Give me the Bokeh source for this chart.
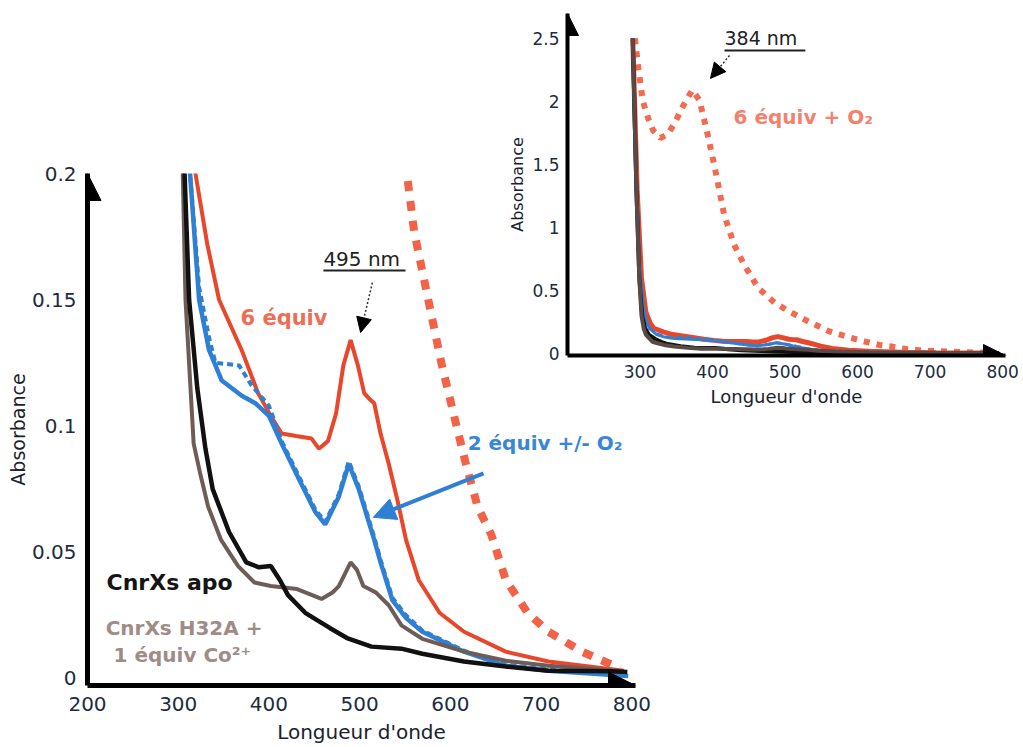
from bokeh.plotting import figure
from bokeh.models import Range1d, FixedTicker, NumeralTickFormatter, Label, Arrow, NormalHead
from bokeh.layouts import row
from bokeh.embed import file_html
from bokeh.resources import INLINE

# ---------------- data (wavelength nm, absorbance) ----------------
apo_wl = [290, 295, 299, 303, 307, 312, 321, 330, 338, 356, 375, 389, 402, 412, 421, 440, 467, 486, 513, 546, 569, 615, 661, 708, 777, 795]
apo_abs = [2.5, 1.3, 0.6, 0.3, 0.2, 0.15, 0.115, 0.091, 0.075, 0.058, 0.046, 0.044, 0.0445, 0.039, 0.033, 0.026, 0.020, 0.016, 0.0126, 0.0118, 0.0098, 0.0067, 0.0047, 0.003, 0.0028, 0.0025]

h32a_wl = [290, 295, 299, 302, 305, 308, 317, 324, 333, 347, 366, 384, 402, 431, 458, 470, 477, 490, 497, 504, 518, 532, 546, 569, 615, 661, 708, 791]
h32a_abs = [2.5, 1.3, 0.6, 0.3, 0.2, 0.15, 0.093, 0.0815, 0.068, 0.055, 0.0445, 0.038, 0.0366, 0.0354, 0.0315, 0.034, 0.0366, 0.046, 0.043, 0.0366, 0.034, 0.029, 0.021, 0.0157, 0.0106, 0.007, 0.005, 0.0028]

eq2_wl = [290, 295, 300, 305, 309, 313, 323, 334, 348, 370, 385, 400, 414, 433, 451, 462, 477, 488, 499, 510, 516, 523, 536, 551, 569, 615, 661, 708, 796]
eq2_abs = [2.5, 1.4, 0.65, 0.35, 0.25, 0.2, 0.15, 0.13, 0.118, 0.112, 0.109, 0.104, 0.093, 0.079, 0.066, 0.061, 0.072, 0.085, 0.075, 0.062, 0.055, 0.046, 0.031, 0.024, 0.0185, 0.0106, 0.005, 0.003, 0.001]

eq2o2_wl = [290, 295, 300, 305, 309, 313, 323, 334, 341, 367, 381, 400, 414, 433, 451, 462, 477, 488, 499, 510, 516, 523, 536, 551, 569, 615, 661, 708, 796]
eq2o2_abs = [2.5, 1.4, 0.65, 0.35, 0.25, 0.2, 0.155, 0.135, 0.125, 0.124, 0.116, 0.108, 0.094, 0.080, 0.067, 0.062, 0.073, 0.086, 0.076, 0.063, 0.056, 0.047, 0.032, 0.025, 0.019, 0.011, 0.0055, 0.0035, 0.0012]

eq6_wl = [290, 296, 302, 308, 314, 319, 332, 345, 370, 388, 402, 414, 430, 447, 455, 465, 474, 482, 490, 498, 505, 510, 516, 523, 532, 542, 551, 565, 588, 615, 661, 708, 791]
eq6_abs = [2.5, 1.3, 0.6, 0.33, 0.24, 0.2, 0.172, 0.15, 0.13, 0.113, 0.104, 0.097, 0.096, 0.095, 0.091, 0.094, 0.105, 0.124, 0.134, 0.124, 0.113, 0.111, 0.109, 0.097, 0.085, 0.07, 0.055, 0.039, 0.026, 0.0185, 0.0106, 0.0067, 0.003]

eq6o2_wl = [293, 298, 304, 311, 318, 328, 338, 347, 359, 372, 382, 392, 404, 416, 430, 444, 463, 486, 507, 530, 552, 560, 575, 590, 604, 617, 630, 645, 661, 685, 708, 745, 787]
eq6o2_abs = [2.5, 2.25, 2.0, 1.87, 1.77, 1.71, 1.74, 1.82, 1.96, 2.09, 2.01, 1.77, 1.45, 1.10, 0.86, 0.70, 0.52, 0.40, 0.33, 0.26, 0.2, 0.177, 0.151, 0.125, 0.104, 0.085, 0.068, 0.057, 0.039, 0.026, 0.0185, 0.0106, 0.004]

main_x_ticks = [200, 300, 400, 500, 600, 700, 800]
main_y_ticks = [0, 0.05, 0.1, 0.15, 0.2]
inset_x_ticks = [300, 400, 500, 600, 700, 800]
inset_y_ticks = [0, 0.5, 1, 1.5, 2, 2.5]

# ---------------- styles ----------------
RED = "#e8472b"
RED_DOT = "#f15a3c"
BLUE = "#2f80d4"
BLACK = "#111111"
BROWN = "#6e5c58"
TICK = "#1c2c40"
FONT = "DejaVu Sans"


def style_axes(p, tick_size, xlab_size, ylab_size, x_standoff, y_standoff, xlab_standoff, ylab_standoff, lw):
    for ax in p.axis:
        ax.axis_line_width = lw
        ax.axis_line_color = "black"
        ax.major_tick_line_color = None
        ax.minor_tick_line_color = None
        ax.major_tick_out = 0
        ax.major_tick_in = 0
        ax.major_label_text_font = FONT
        ax.major_label_text_font_size = tick_size
        ax.major_label_text_color = TICK
        ax.axis_label_text_font = FONT
        ax.axis_label_text_font_style = "normal"
        ax.axis_label_text_color = "#1a2230"
    p.xaxis.major_label_standoff = x_standoff
    p.yaxis.major_label_standoff = y_standoff
    p.xaxis.axis_label_standoff = xlab_standoff
    p.yaxis.axis_label_standoff = ylab_standoff
    p.xaxis.axis_label_text_font_size = xlab_size
    p.yaxis.axis_label_text_font_size = ylab_size
    p.grid.visible = False
    p.outline_line_color = None


# ---------------- main chart ----------------
main = figure(width=655, height=747, x_range=Range1d(200, 804), y_range=Range1d(-0.0028, 0.2),
              output_backend="svg", toolbar_location=None,
              min_border_left=87, min_border_right=20, min_border_top=173, min_border_bottom=62,
              x_axis_label="Longueur d'onde", y_axis_label="Absorbance")
main.frame_align = False
style_axes(main, "20px", "20px", "19px", 11, 11, 6, 0, 5)
main.xaxis.ticker = FixedTicker(ticks=main_x_ticks)
main.yaxis.ticker = FixedTicker(ticks=main_y_ticks)
main.yaxis.formatter = NumeralTickFormatter(format="0.[00]")

main.line(eq6o2_wl, eq6o2_abs, line_color=RED_DOT, line_width=8, line_dash="10 10", line_alpha=0.95)
main.line(eq6_wl, eq6_abs, line_color=RED, line_width=4)
main.line(eq2_wl, eq2_abs, line_color=BLUE, line_width=4.5)
main.line(eq2o2_wl, eq2o2_abs, line_color=BLUE, line_width=4, line_dash="6 4")
main.line(h32a_wl, h32a_abs, line_color=BROWN, line_width=4)
main.line(apo_wl, apo_abs, line_color=BLACK, line_width=4.5)

# axis arrow heads
main.add_layout(Arrow(end=NormalHead(size=27, fill_color="black", line_color="black"),
                      x_start=200, y_start=0.19, x_end=200, y_end=0.2, line_alpha=0))
main.add_layout(Arrow(end=NormalHead(size=27, fill_color="black", line_color="black"),
                      x_start=790, y_start=-0.0028, x_end=804, y_end=-0.0028, line_alpha=0))

# annotations
main.add_layout(Label(x=460, y=0.1663, text="495 nm", text_font=FONT, text_font_size="20px",
                      text_color="#222222", text_baseline="middle", text_align="left"))
main.add_layout(Arrow(end=None, x_start=460, y_start=0.1616, x_end=550.5, y_end=0.1616,
                      line_color="#222222", line_width=2))
main.add_layout(Arrow(end=NormalHead(size=15, fill_color="black", line_color="black"),
                      x_start=514, y_start=0.1568, x_end=501, y_end=0.137,
                      line_color="#333333", line_width=1.5, line_dash="2 2"))
main.add_layout(Label(x=368.6, y=0.1426, text="6 équiv", text_font=FONT, text_font_size="21px",
                      text_font_style="bold", text_color="#ef6d55", text_baseline="middle", text_align="left"))
main.add_layout(Label(x=619, y=0.0931, text="2 équiv +/- O₂", text_font=FONT, text_font_size="20px",
                      text_font_style="bold", text_color="#3a86d6", text_baseline="middle", text_align="left"))
main.add_layout(Arrow(end=NormalHead(size=22, fill_color=BLUE, line_color=BLUE),
                      x_start=636.5, y_start=0.0812, x_end=515, y_end=0.0638,
                      line_color=BLUE, line_width=4))
main.add_layout(Label(x=221, y=0.038, text="CnrXs apo", text_font=FONT, text_font_size="22px",
                      text_font_style="bold", text_color="#151515", text_baseline="middle", text_align="left"))
main.add_layout(Label(x=220, y=0.0198, text="CnrXs H32A +", text_font=FONT, text_font_size="20px",
                      text_font_style="bold", text_color="#a08c87", text_baseline="middle", text_align="left"))
main.add_layout(Label(x=228.7, y=0.0091, text="1 équiv Co²⁺", text_font=FONT, text_font_size="20px",
                      text_font_style="bold", text_color="#a08c87", text_baseline="middle", text_align="left"))

# ---------------- inset chart ----------------
inset = figure(width=520, height=413, x_range=Range1d(200, 804), y_range=Range1d(-0.016, 2.698),
               output_backend="svg", toolbar_location=None,
               min_border_left=67, min_border_right=15, min_border_top=13, min_border_bottom=58,
               x_axis_label="Longueur d'onde", y_axis_label="Absorbance")
inset.frame_align = False
style_axes(inset, "17px", "18px", "16px", 9, 8, 5, 2, 4)
inset.xaxis.ticker = FixedTicker(ticks=inset_x_ticks)
inset.yaxis.ticker = FixedTicker(ticks=inset_y_ticks)
inset.yaxis.formatter = NumeralTickFormatter(format="0.[0]")
inset.background_fill_alpha = 0
inset.border_fill_alpha = 0

inset.line(eq6o2_wl, eq6o2_abs, line_color=RED_DOT, line_width=6, line_dash="6 7", line_alpha=0.9)
inset.line(eq6_wl, eq6_abs, line_color=RED, line_width=5)
inset.line(eq2_wl, eq2_abs, line_color=BLUE, line_width=3)
inset.line(eq2o2_wl, eq2o2_abs, line_color=BLUE, line_width=3, line_dash="6 4")
inset.line(apo_wl, apo_abs, line_color=BLACK, line_width=4)
inset.line(h32a_wl, h32a_abs, line_color="#5a4a47", line_width=4)

inset.add_layout(Arrow(end=NormalHead(size=22, fill_color="black", line_color="black"),
                       x_start=200, y_start=2.6, x_end=200, y_end=2.698, line_alpha=0))
inset.add_layout(Arrow(end=NormalHead(size=22, fill_color="black", line_color="black"),
                       x_start=790, y_start=-0.016, x_end=804, y_end=-0.016, line_alpha=0))

inset.add_layout(Label(x=416.5, y=2.5, text="384 nm", text_font=FONT, text_font_size="19px",
                       text_color="#222222", text_baseline="middle", text_align="left"))
inset.add_layout(Arrow(end=None, x_start=416.5, y_start=2.405, x_end=528, y_end=2.405,
                       line_color="#222222", line_width=2))
inset.add_layout(Arrow(end=NormalHead(size=15, fill_color="black", line_color="black"),
                       x_start=423.4, y_start=2.365, x_end=397.2, y_end=2.183,
                       line_color="#333333", line_width=1.5, line_dash="2 2"))
inset.add_layout(Label(x=429, y=1.873, text="6 équiv + O₂", text_font=FONT, text_font_size="20px",
                       text_font_style="bold", text_color="#f2826c", text_baseline="middle", text_align="left"))

inset.margin = (0, 0, 0, -155)
main.margin = (0, 0, 0, 0)

layout = row(main, inset)

open("out.html", "w").write(file_html(layout, INLINE))
